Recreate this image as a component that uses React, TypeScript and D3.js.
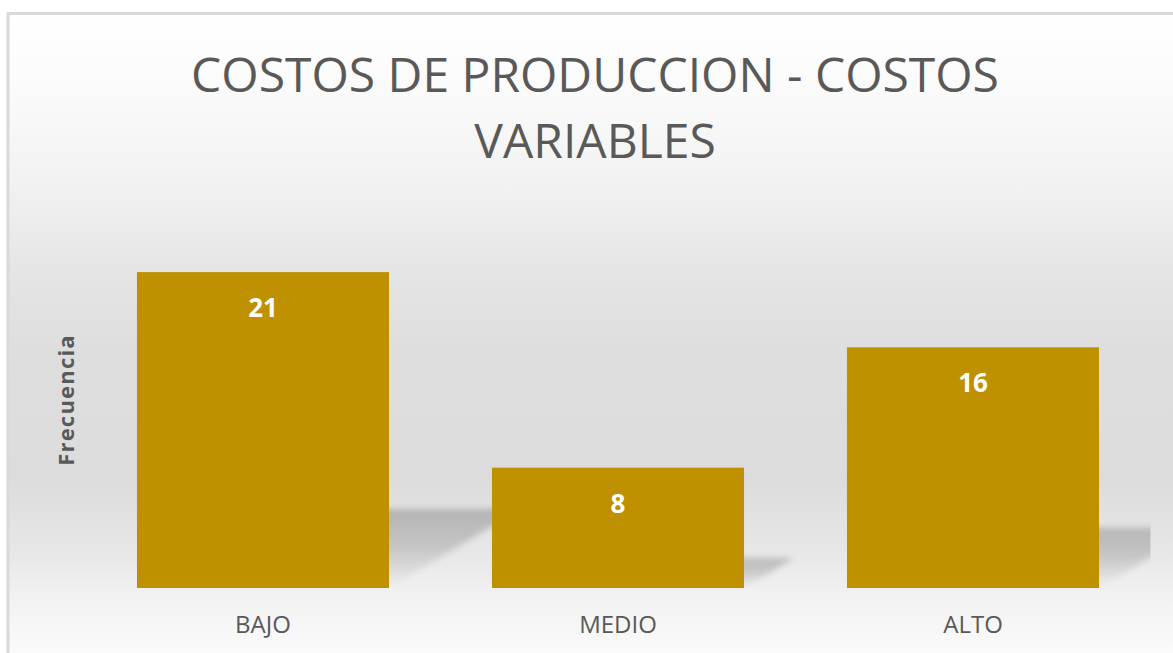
import React from "react";
import * as d3 from "d3";

const categories = ["BAJO", "MEDIO", "ALTO"];
const values = [21, 8, 16];
const titleLines = ["COSTOS DE PRODUCCION - COSTOS", "VARIABLES"];
const yAxisTitle = "Frecuencia";

const W = 1173;
const H = 653;

export default function App() {
  const plot = { left: 85.5, right: 1150.5, top: 227, bottom: 588 };
  const x = d3
    .scaleBand<string>()
    .domain(categories)
    .range([plot.left, plot.right])
    .paddingInner(0.29)
    .paddingOuter(0.145);
  const y = d3.scaleLinear().domain([0, 24]).range([plot.bottom, plot.top]);

  const shadowPath = (c: string, v: number) => {
    const x0 = x(c)!;
    const x1 = x0 + x.bandwidth();
    const h = y(0) - y(v);
    const sh = h * 0.25;
    const dx = sh / 0.6;
    const p = d3.path();
    p.moveTo(x0, y(0));
    p.lineTo(x1, y(0));
    p.lineTo(x1 + dx, y(0) - sh);
    p.lineTo(x0 + dx, y(0) - sh);
    p.closePath();
    return p.toString();
  };

  return (
    <svg
      width={W}
      height={H}
      style={{ position: "absolute", left: 0, top: 0 }}
      fontFamily="'Open Sans', sans-serif"
    >
      <defs>
        <linearGradient id="bg" gradientUnits="userSpaceOnUse" x1="0" y1="13" x2="0" y2="660">
          <stop offset="0" stopColor="#ffffff" />
          <stop offset="0.13" stopColor="#fafafa" />
          <stop offset="0.26" stopColor="#f2f2f2" />
          <stop offset="0.40" stopColor="#e5e5e5" />
          <stop offset="0.52" stopColor="#dedede" />
          <stop offset="0.72" stopColor="#dcdcdc" />
          <stop offset="0.84" stopColor="#e8e8e8" />
          <stop offset="0.89" stopColor="#f0f0f0" />
          <stop offset="1" stopColor="#fcfcfc" />
        </linearGradient>
        <linearGradient id="shadowGrad" x1="0" y1="0" x2="0" y2="1">
          <stop offset="0" stopColor="#000" stopOpacity="0.2" />
          <stop offset="0.45" stopColor="#000" stopOpacity="0.15" />
          <stop offset="1" stopColor="#000" stopOpacity="0" />
        </linearGradient>
        <filter id="blur" x="-20%" y="-20%" width="140%" height="140%">
          <feGaussianBlur stdDeviation="3" />
        </filter>
        <clipPath id="plotClip">
          <rect x={plot.left} y={plot.top - 50} width={plot.right - plot.left} height={plot.bottom - plot.top + 50} />
        </clipPath>
      </defs>

      <rect x={8} y={13.5} width={1200} height={700} fill="url(#bg)" stroke="#d9d9d9" strokeWidth={3} />

      {titleLines.map((t, i) => (
        <text
          key={i}
          x={595}
          y={92 + i * 66}
          textAnchor="middle"
          fontSize={48}
          fill="#595959"
        >
          {t}
        </text>
      ))}

      <text
        transform={`translate(74,400) rotate(-90)`}
        textAnchor="middle"
        fontSize={22}
        fontWeight="bold"
        letterSpacing={1.2}
        fill="#595959"
      >
        {yAxisTitle}
      </text>

      <g clipPath="url(#plotClip)">
        {categories.map((c, i) => (
          <path key={c} d={shadowPath(c, values[i])} fill="url(#shadowGrad)" filter="url(#blur)" />
        ))}
      </g>

      {categories.map((c, i) => (
        <rect
          key={c}
          x={x(c)!}
          y={y(values[i])}
          width={x.bandwidth()}
          height={y(0) - y(values[i])}
          fill="#bf9000"
        />
      ))}

      {categories.map((c, i) => (
        <text
          key={c}
          x={x(c)! + x.bandwidth() / 2}
          y={y(values[i]) + 45}
          textAnchor="middle"
          fontSize={26}
          fontWeight="bold"
          fill="#ffffff"
        >
          {values[i]}
        </text>
      ))}

      {categories.map((c) => (
        <text
          key={c}
          x={x(c)! + x.bandwidth() / 2}
          y={633}
          textAnchor="middle"
          fontSize={24}
          fill="#595959"
        >
          {c}
        </text>
      ))}
    </svg>
  );
}
